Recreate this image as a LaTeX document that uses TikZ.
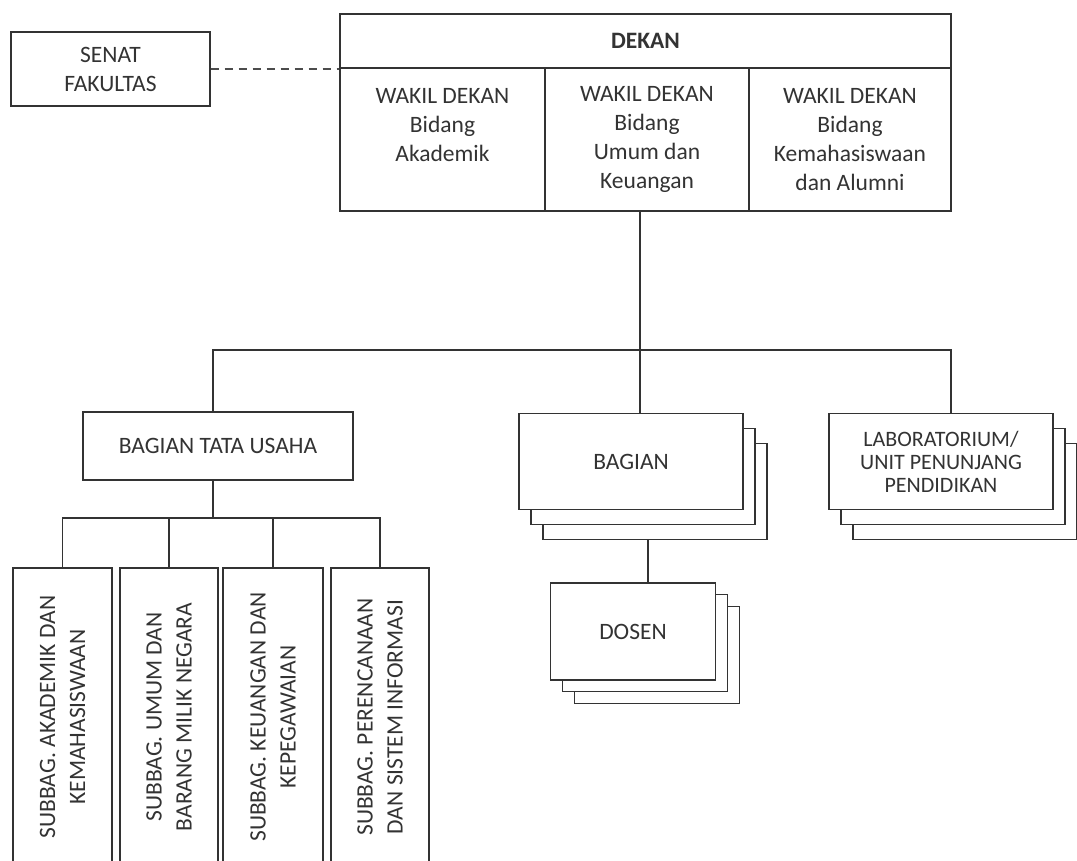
\documentclass[tikz,border=0pt]{standalone}
\usepackage{fontspec}
\setmainfont{Carlito}
\begin{document}
\begin{tikzpicture}[x=1pt,y=-1pt,
  line width=1.1pt,
  every node/.style={text=black!80, font=\fontsize{23.5}{29}\selectfont},
  box/.style={draw=black!80, fill=white, rectangle, inner sep=0pt, align=center},
  conn/.style={draw=black!80, line width=1.1pt},
  dashconn/.style={draw=black!70, line width=1.6pt, dash pattern=on 8pt off 6pt}]
\useasboundingbox (0,0) rectangle (1077,860);
% top
\node[box, minimum width=199, minimum height=74] (senat) at (110.5,69) {SENAT\\FAKULTAS};
\node[box, minimum width=611, minimum height=54, font=\fontsize{23.5}{29}\selectfont\bfseries] (dekan) at (645.5,41) {DEKAN};
\node[box, minimum width=205, minimum height=143] (wd1) at (442.5,139.5) {WAKIL DEKAN\\Bidang\\Akademik\\\mbox{}};
\node[box, minimum width=204, minimum height=143] (wd2) at (647,139.5) {WAKIL DEKAN\\Bidang\\Umum dan\\Keuangan};
\node[box, minimum width=202, minimum height=143] (wd3) at (850,139.5) {WAKIL DEKAN\\Bidang\\Kemahasiswaan\\dan Alumni};
\draw[dashconn] (senat.east) -- (senat.east -| wd1.west);
% second level
\node[box, minimum width=270, minimum height=68] (tu) at (218,446) {BAGIAN TATA USAHA};
\node[box, minimum width=224, minimum height=96] (bag3) at (655,491.5) {};
\node[box, minimum width=224, minimum height=96] (bag2) at (643,476.5) {};
\node[box, minimum width=224, minimum height=96] (bag) at (631,461.5) {BAGIAN};
\node[box, minimum width=224, minimum height=96] (lab3) at (965,491.5) {};
\node[box, minimum width=224, minimum height=96] (lab2) at (953,476.5) {};
\node[box, minimum width=224, minimum height=96, font=\fontsize{22}{23}\selectfont] (lab) at (941,461.5) {LABORATORIUM/\\UNIT PENUNJANG\\PENDIDIKAN};
\node[box, minimum width=165, minimum height=97] (dos3) at (657,655) {};
\node[box, minimum width=165, minimum height=97] (dos2) at (645,643) {};
\node[box, minimum width=165, minimum height=97] (dos) at (633,631.5) {DOSEN};
% subbag
\node[box, minimum width=99, minimum height=298] (sb1) at (62.5,717) {};
\node[box, minimum width=98, minimum height=298] (sb2) at (169,717) {};
\node[box, minimum width=100, minimum height=298] (sb3) at (273,717) {};
\node[box, minimum width=98, minimum height=298] (sb4) at (380,717) {};
\node[rotate=90, align=center, font=\fontsize{23.5}{30}\selectfont] (sb1t) at (sb1.center) {SUBBAG. AKADEMIK DAN\\KEMAHASISWAAN};
\node[rotate=90, align=center, font=\fontsize{23.5}{30}\selectfont] (sb2t) at (sb2.center) {SUBBAG. UMUM DAN\\BARANG MILIK NEGARA};
\node[rotate=90, align=center, font=\fontsize{23.5}{30}\selectfont] (sb3t) at (sb3.center) {SUBBAG. KEUANGAN DAN\\KEPEGAWAIAN};
\node[rotate=90, align=center, font=\fontsize{23.5}{30}\selectfont] (sb4t) at (sb4.center) {SUBBAG. PERENCANAAN\\DAN SISTEM INFORMASI};
% connectors
\coordinate (bL) at (213,350);
\coordinate (bM) at (640,350);
\coordinate (bR) at (951,350);
\coordinate (tb) at (213,518);
\coordinate (bd) at (648,560);
\draw[conn] (bM |- wd2.south) -- (bM);
\draw[conn] (bL |- tu.north) -- (bL) -- (bR) -- (bR |- lab.north);
\draw[conn] (bM) -- (bM |- bag.north);
\draw[conn] (tb |- tu.south) -- (tb);
\draw[conn] (sb1.north) -- (sb1.north |- tb) -- (sb4.north |- tb) -- (sb4.north);
\draw[conn] (sb2.north) -- (sb2.north |- tb);
\draw[conn] (sb3.north) -- (sb3.north |- tb);
\draw[conn] (bd |- bag3.south) -- (bd |- dos.north);
\end{tikzpicture}
\end{document}
